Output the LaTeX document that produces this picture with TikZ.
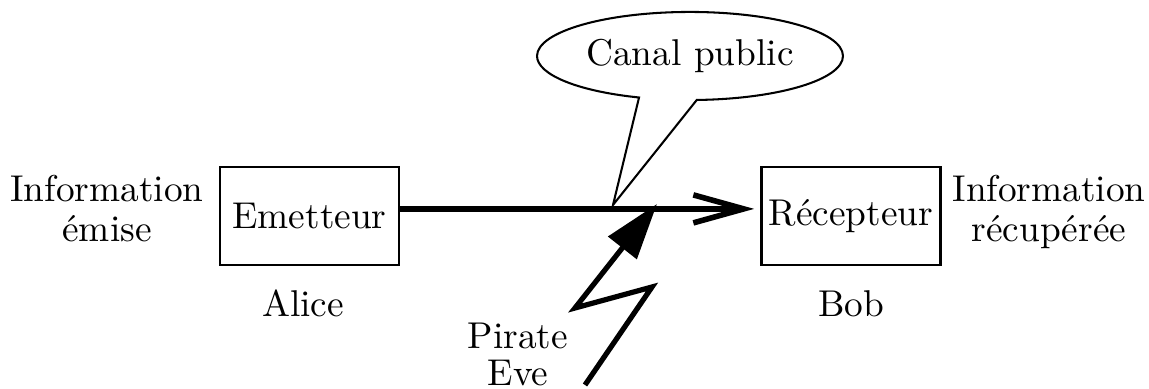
\documentclass[tikz,border=0pt]{standalone}
\usetikzlibrary{arrows.meta,shapes.callouts,shapes.geometric}

\tikzset{
  party/.style={draw, line width=0.7pt, rectangle, minimum width=48pt,
    minimum height=26.3pt, inner sep=0pt},
  caption/.style={inner sep=0pt, align=center},
  link/.style={line width=1.5pt, -{Straight Barb[length=13.5pt,width=7.5pt]},
    shorten >=1.6pt},
  bolt/.style={line width=1.4pt, line join=miter,
    -{Triangle[length=15pt,width=9.5pt]}},
  bubble/.style={ellipse callout, draw, line width=0.55pt, inner sep=0pt,
    minimum width=82pt, minimum height=23.6pt, callout pointer arc=22},
}

\begin{document}
\begin{tikzpicture}[x=0.268pt, y=-0.268pt]
  \path[use as bounding box] (0,0) rectangle (1149,389);

  % sender and receiver
  \node[party] (emit) at (309.5,216) {Emetteur};
  \node[party] (recv) at (851,216) {R\'ecepteur};

  % public channel
  \draw[link] ([yshift=1.9pt]emit.east) -- ([yshift=1.9pt]recv.west);

  % speech bubble naming the channel
  \coordinate (talk) at (613,205);
  \node[bubble, callout absolute pointer={(talk)}] (canal) at (690,56) {Canal public};

  % side labels
  \node[caption, anchor=north, font=\fontsize{10}{10.9}\selectfont] (infoin) at (107,174)
    {Information\\\'emise};
  \node[caption, anchor=north, font=\fontsize{10}{10.9}\selectfont] (infoout) at (1049,174)
    {Information\\r\'ecup\'er\'ee};
  \node[caption, anchor=base] (alice) at (303,317) {Alice};
  \node[caption, anchor=base] (bob) at (851,317) {Bob};
  \node[caption, anchor=north, font=\fontsize{10}{9.9}\selectfont] (eve) at (518,322.5)
    {Pirate\\Eve};

  % eavesdropper's lightning bolt
  \coordinate (b0) at (585,385);
  \coordinate (b1) at (652,287);
  \coordinate (b2) at (575,308);
  \coordinate (b3) at (657,204);
  \draw[bolt] (b0) -- (b1) -- (b2) -- (b3);
\end{tikzpicture}
\end{document}
